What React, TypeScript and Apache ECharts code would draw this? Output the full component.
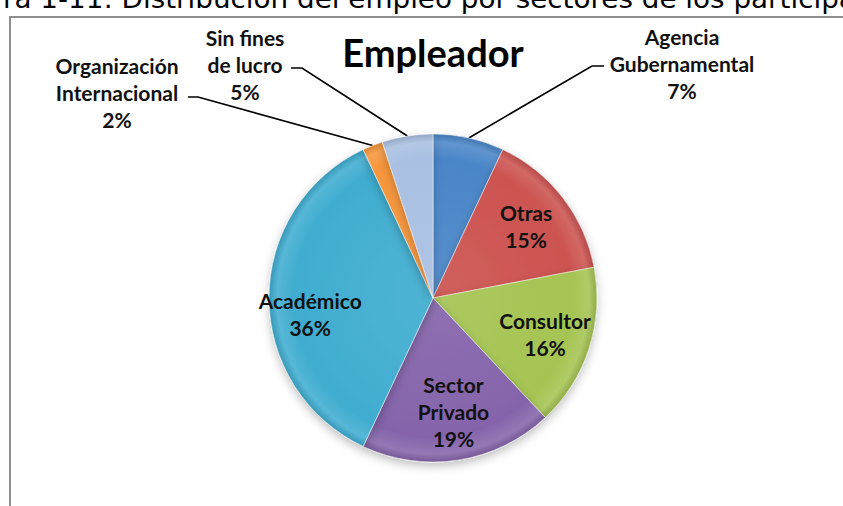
import React, { useEffect, useRef } from "react";
import * as echarts from "echarts";

const caption = "ra 1-11: Distribución del empleo por sectores de los participantes";
const chartTitle = "Empleador";
const categories = [
  "Agencia\nGubernamental",
  "Otras",
  "Consultor",
  "Sector\nPrivado",
  "Académico",
  "Organización\nInternacional",
  "Sin fines\nde lucro",
];
const values = [7, 15, 16, 19, 36, 2, 5];
const colors = ["#4a86c8", "#cc5350", "#a5c452", "#8564ab", "#40add0", "#f7963c", "#a9c0e2"];

const CX = 433;
const CY = 298;
const R = 164;
const FONT = "Lato, 'Open Sans', sans-serif";

// label layout for the small (outside) slices: label centre, elbow of leader, end of leader
const outsideLayout: Record<number, { x: number; y: number; ex: number; ey: number; endX: number }> = {
  0: { x: 682, y: 63, ex: 592, ey: 66, endX: 604 },
  5: { x: 117, y: 92, ex: 198, ey: 97, endX: 188 },
  6: { x: 245, y: 64, ex: 302, ey: 68, endX: 291 },
};
// small nudges for inside labels
const insideShift: Record<number, { dx: number; dy: number }> = {
  4: { dx: -5, dy: 16 },
  3: { dx: 2, dy: -3 },
};

function shade(hex: string, f: number) {
  const n = parseInt(hex.slice(1), 16);
  let r = (n >> 16) & 255, g = (n >> 8) & 255, b = n & 255;
  if (f >= 0) {
    r = Math.round(r + (255 - r) * f);
    g = Math.round(g + (255 - g) * f);
    b = Math.round(b + (255 - b) * f);
  } else {
    r = Math.round(r * (1 + f));
    g = Math.round(g * (1 + f));
    b = Math.round(b * (1 + f));
  }
  return `rgb(${r},${g},${b})`;
}

export default function App() {
  const ref = useRef<HTMLDivElement>(null);
  useEffect(() => {
    if (!ref.current) return;
    const chart = echarts.init(ref.current, undefined, { renderer: "svg" });
    const fillData = categories.map((name, i) => ({
      name,
      value: values[i],
      itemStyle: {
        color: new echarts.graphic.RadialGradient(
          CX,
          CY,
          R,
          [
            { offset: 0, color: shade(colors[i], 0.08) },
            { offset: 0.85, color: colors[i] },
            { offset: 0.95, color: shade(colors[i], 0.12) },
            { offset: 1, color: shade(colors[i], -0.12) },
          ],
          true
        ),
      },
      label: { show: values[i] < 10 },
      labelLine: { show: values[i] < 10 },
    }));
    const labelData = categories.map((name, i) => ({
      name,
      value: values[i],
      label: { show: values[i] >= 10 },
    }));
    chart.setOption({
      animation: false,
      backgroundColor: "#ffffff",
      title: {
        text: chartTitle,
        left: 428,
        top: 28,
        textAlign: "center",
        textStyle: { fontFamily: FONT, fontWeight: "bold", fontSize: 38, color: "#000" },
      },
      graphic: [
        {
          type: "text",
          x: 3,
          y: -14,
          scaleX: 1.07,
          style: {
            text: caption,
            font: "26px 'DejaVu Sans', sans-serif",
            fill: "#000",
            verticalAlign: "top",
          },
          silent: true,
        },
        {
          type: "rect",
          shape: { x: 10, y: 17, width: 900, height: 600 },
          style: { fill: "none", stroke: "#8e8e8e", lineWidth: 2 },
          silent: true,
          z: -1,
        },
      ],
      series: [
        {
          type: "pie",
          center: [CX, CY],
          radius: [0, R],
          startAngle: 90,
          clockwise: true,
          silent: true,
          itemStyle: {
            borderColor: "rgba(255,255,255,0.45)",
            borderWidth: 1,
            shadowBlur: 10,
            shadowColor: "rgba(0,0,0,0.25)",
            shadowOffsetY: 4,
          },
          label: {
            position: "outside",
            formatter: "{b}\n{c}%",
            fontFamily: FONT,
            fontWeight: "bold",
            fontSize: 21,
            lineHeight: 27,
            color: "#111",
            align: "center",
          },
          labelLine: { lineStyle: { color: "#000", width: 1.6 }, length: 30, length2: 10 },
          labelLayout: (p: any) => {
            const o = outsideLayout[p.dataIndex];
            if (!o) return {};
            const start = p.labelLinePoints && p.labelLinePoints[0];
            const res: any = { x: o.x, y: o.y, align: "center", verticalAlign: "middle" };
            if (start) res.labelLinePoints = [start, [o.ex, o.ey], [o.endX, o.ey]];
            return res;
          },
          data: fillData,
        },
        {
          type: "pie",
          center: [CX, CY],
          radius: [R * 0.4, R],
          startAngle: 90,
          clockwise: true,
          silent: true,
          itemStyle: { color: "rgba(0,0,0,0)", borderWidth: 0 },
          label: {
            position: "inside",
            formatter: "{b}\n{c}%",
            fontFamily: FONT,
            fontWeight: "bold",
            fontSize: 21,
            lineHeight: 27,
            color: "#111",
          },
          labelLine: { show: false },
          labelLayout: (p: any) => {
            const s = insideShift[p.dataIndex];
            return s ? { dx: s.dx, dy: s.dy } : {};
          },
          data: labelData,
        },
      ],
    });
    return () => chart.dispose();
  }, []);
  return (
    <div
      ref={ref}
      style={{ position: "fixed", left: 0, top: 0, width: 843, height: 506, background: "#fff" }}
    />
  );
}
